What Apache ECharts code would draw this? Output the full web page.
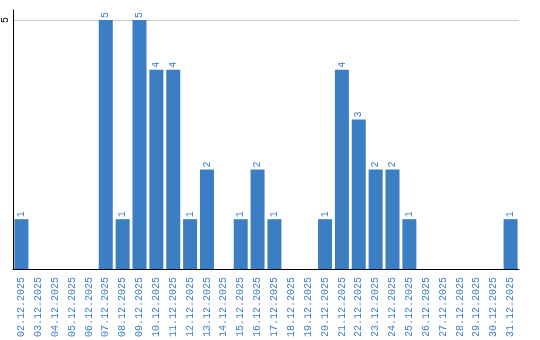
<!DOCTYPE html>
<html><head><meta charset="utf-8">
<script src="https://cdn.jsdelivr.net/npm/echarts@6/dist/echarts.min.js"></script>
<style>html,body{margin:0;padding:0;background:#fff}#c{width:540px;height:340px}</style>
</head><body><div id="c"></div>
<script>
const categories = ["02.12.2025","03.12.2025","04.12.2025","05.12.2025","06.12.2025","07.12.2025","08.12.2025","09.12.2025","10.12.2025","11.12.2025","12.12.2025","13.12.2025","14.12.2025","15.12.2025","16.12.2025","17.12.2025","18.12.2025","19.12.2025","20.12.2025","21.12.2025","22.12.2025","23.12.2025","24.12.2025","25.12.2025","26.12.2025","27.12.2025","28.12.2025","29.12.2025","30.12.2025","31.12.2025"];
const values = [1,0,0,0,0,5,1,5,4,4,1,2,0,1,2,1,0,0,1,4,3,2,2,1,0,0,0,0,0,1];
const yTicks = [5];
const chart = echarts.init(document.getElementById('c'));
const blue = '#3b7ec3';
const font = 'Liberation Mono';
chart.setOption({
  animation: false,
  grid: {left: 9, right: 21, top: 10, bottom: 70},
  xAxis: {
    type: 'category', data: categories,
    axisLine: {lineStyle: {color: '#000', width: 1}},
    axisTick: {show: false},
    axisLabel: {rotate: 90, interval: 0, color: blue, fontFamily: font, fontSize: 10, margin: 8}
  },
  yAxis: {
    type: 'value', min: 0, max: 5.2, interval: 5,
    axisLine: {show: true, lineStyle: {color: '#000', width: 1}},
    axisTick: {show: false},
    splitLine: {show: true, showMinLine: false, showMaxLine: false, lineStyle: {color: '#ccc', width: 1}},
    axisLabel: {rotate: 90, color: '#000', fontFamily: font, fontSize: 10, margin: 3,
      formatter: v => yTicks.includes(v) ? String(v) : ''}
  },
  series: [{
    type: 'bar', data: values.map(v => v === 0 ? null : v), barWidth: 14,
    itemStyle: {color: blue},
    label: {show: true, position: 'top', rotate: 90, align: 'left', verticalAlign: 'middle', distance: 2,
      color: blue, fontFamily: font, fontSize: 10}
  }]
});
</script></body></html>
